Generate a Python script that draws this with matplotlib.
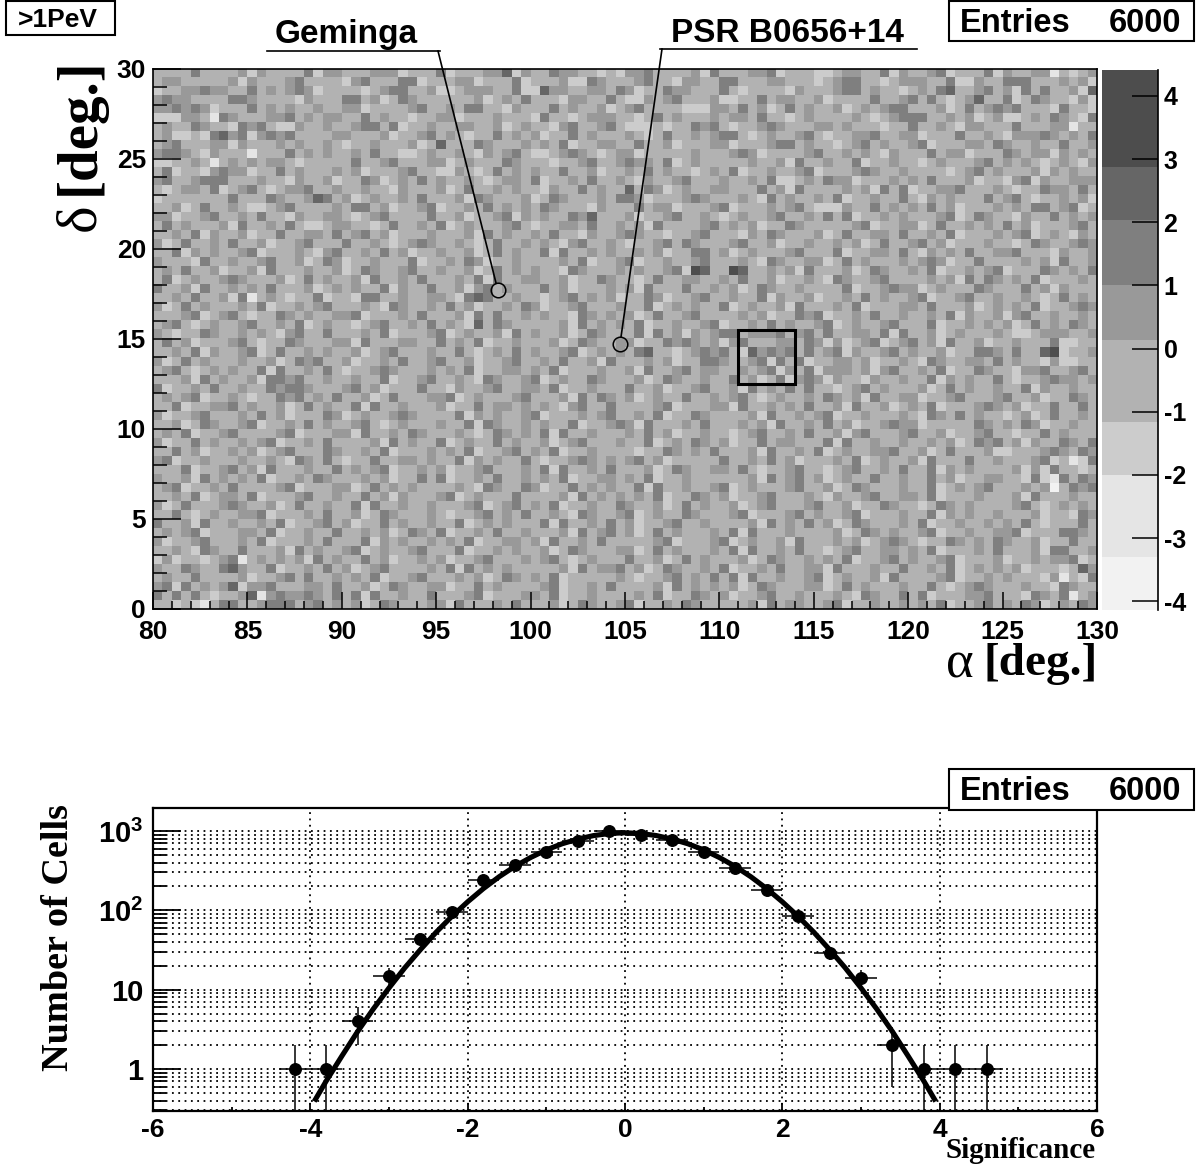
import numpy as np
import matplotlib
matplotlib.use("Agg")
import matplotlib.pyplot as plt
from matplotlib.colors import ListedColormap
from matplotlib.patches import Rectangle
from matplotlib.ticker import LogLocator, NullFormatter, MultipleLocator

plt.rcParams['font.family'] = ['Liberation Sans', 'DejaVu Sans']
plt.rcParams['font.weight'] = 'bold'
plt.rcParams['axes.unicode_minus'] = False
plt.rcParams['mathtext.fontset'] = 'custom'
plt.rcParams['mathtext.bf'] = 'Liberation Sans:bold'

W, H = 1198, 1168

# sky map cells, top row first, one digit per cell = colour band (1 lightest .. 8 darkest)
# only the corners and the darkest/lightest
# cells are close to the original, the rest is an approximate hand estimate
map_rows = [
    "4444644445 3544446355 4445553444 6344455735 4465544343 5564444536 4445563444 3345544635 4456344463 5445524345",
    "4554444453 5444564444 3564446634 4455344463 4445336544 4564435544 6644455444 3456644345 5544633544 6664445453",
    "3445565544 6454565344 4434566445 3345554463 3755445546 5344655444 6434444354 4456645443 4546744564 5364644537",
    "5655444466 5444435444 6645346544 4444534546 4443554464 3354564445 3344645544 5344446445 6464345744 6346544353",
    "5565653444 6454544544 5534444564 4546644354 4464544534 5644443335 5464534645 4453454566 4445346456 5644436443",
    "3335542654 4455645455 4464544344 5534445444 3644345554 4346454445 4554644345 4444543456 6644545345 3345465436",
    "4544654436 5643354454 4566463445 4455445345 4435644564 3334344656 4344565444 5545444344 6445435544 4644455244",
    "4533436756 3565644445 5444534456 4543446454 5344645444 5434644545 6643454456 4344556445 5344464454 3555654546",
    "4564445535 4445454454 3445444534 7444654445 4546344554 4644534445 5344456645 4434564544 5634445546 5445446445",
    "5665435444 2444645454 4546443345 4454354564 3345654345 5344444544 4565344445 6445454354 4464553444 6545535454",
    "3344542454 5455434444 4644564445 5345444654 4434456445 6554634544 4445445364 4544634454 4345444564 5454345435",
    "4634435655 3446454445 4534445644 3354346454 5446445344 5464544345 4634454456 3444565445 4444345645 4445354544",
    "5644566644 4544354453 4465345464 5445434554 6344546445 4354456444 5445463345 4655344454 5464445344 3563544555",
    "4345546345 6434556445 4454435444 5346445454 4354464544 7465345445 5444645364 4445453646 3445564445 4344655464",
    "3444444464 4465445764 5345445464 4453654445 3465444546 6534445654 4454364544 5463445446 4354544464 5643445453",
    "4453464454 3345644445 4664534456 3445464545 4654443544 4645534445 6344454564 3335446454 5464534445 4546645634",
    "5534456445 4644354455 4345644446 4453445635 4544657444 5344564454 3454456445 4646344545 4445634654 4354464545",
    "4645444536 4454643345 5443464454 6345444564 3445546445 4536444456 4545344654 4444563445 5346445454 6453444564",
    "4454635445 3446445546 4564534445 4445364544 5464435445 6544344564 4435465444 5346445546 4454634445 4563454354",
    "5346445464 4534456444 6445434565 4454346445 4543564454 3445646544 4564453445 4454534644 5645344454 4346544565",
    "4463545445 6344454356 4454645344 5445346454 4636445454 4545344664 5345444564 4463445546 4354546445 5644435445",
    "5444364454 4564453465 3445444634 4546534454 4445463445 6344544564 4454365445 5346454445 4565344644 4454536445",
    "4546445344 5364445445 3465445644 5445346454 5443654445 4544563874 4874454536 4445346544 5463445456 3444654546",
    "4634544565 4445346454 4536445464 4454636445 5445344654 4346445544 5464453445 4365445644 4454536465 4546344454",
    "6445364454 5464445345 4544635446 4453564544 4645344454 5364446445 4534654454 4446344565 5345444654 4464535444",
    "4454644536 2454344634 4366445445 5436764454 4345645453 4465344564 4544635445 3445464544 5634456445 4454346454",
    "5346454445 4634454564 4454365445 4645344546 5344564445 4463454544 6345445364 4454634445 5464445345 4546344565",
    "4445634564 3446545445 5634445464 4453646445 4544365454 5346445644 4454534465 6344546445 4454635445 3564454454",
    "4564345445 6445463454 4345644546 4543746544 4445364545 4634454456 3445464544 5634544564 4463445454 5346454654",
    "5434465445 4543564464 4454634445 6345445364 5445346544 4636453545 6645556456 4644554636 4453454445 4334555445",
    "4645344456 4344654445 5364445544 6454634454 4453465445 5344656545 3564445546 5353456345 6453644534 4544463344",
    "4454635445 6346445454 4534564445 4464345464 5445634545 4674434565 6437565646 4563544564 5445344665 4644783445",
    "5346454445 4453465644 5344546445 6445344564 4546445364 4454534466 5445636463 4455453445 4365445546 4544353344",
    "4564345454 4636445464 3445654445 4546344554 5463444544 5364456455 4454563546 3555453564 4546344654 4355644564",
    "4445364544 5366564454 4544634456 4454365445 6345446544 4534654454 4645346356 5354435445 4463545446 4344565545",
    "6344546445 4465665444 5645344464 4354456445 5463445444 6445344564 4536454646 4434564544 4534645445 4463544544",
    "4545634454 3446564546 4453464445 5634544456 4445364654 5345446445 4564345445 4654536445 5344564445 6445344654",
    "4463445564 5445346454 4636445444 5344645545 4543564464 4445634445 5364454546 4453644534 5463444565 4534464464",
    "5344564445 4645344465 3454456544 4463545445 6344454564 4546344654 4445364454 5634454445 4365464544 3453464454",
    "4453465445 6344546454 4564345444 5446365445 4544634456 5364445464 4454536445 4645344565 5344444654 5465344544",
    "4546344564 4445634445 5364454654 4454346545 4636445444 5464534454 4345644546 4453564445 6445344564 4344645444",
    "5344645445 4563445464 4445364544 6345446454 4534564445 4463454654 5344645544 4636445445 4454534656 4535446546",
    "4464534454 5345644465 4454634445 4546344564 5463445444 4344654546 4445364454 6345445564 4534644453 3444565465",
    "5634454445 4454365464 3446445545 4463545446 4344565454 5645344444 6445464534 4454634544 5364446445 4445634236",
    "4446344564 5364445446 4545634454 5344564445 4636445464 4453465445 5464344564 4345644546 4463545444 4535364434",
    "5445364545 4634454654 4454534464 6344546445 4546344554 5463445444 4445364564 5345446445 4464534455 4436326465",
    "4563445464 4445634445 5346454544 4454365446 5344645454 4636445445 6345444564 4534654445 4463454564 4454514656",
    "4454634554 6344456445 4464535444 5634544464 4445364545 4546344654 5344564445 4354456445 5463444544 4536444544",
    "5346444565 4453464454 4636445445 4445634564 5463445446 5445346454 4534564445 6445344654 4346545444 4564345454",
    "4464345445 5634445464 4534654445 4344564546 4454365445 6345446544 4563444564 5445634445 4463545445 4445344365",
    "6445364454 4546344564 5344645445 4463454544 4636445464 5344564454 4445364546 4534654445 4634454454 5464344464",
    "4545634445 5463445446 4454534654 6344546445 4445364564 5346454445 4636444544 4453465454 4563445445 5634446654",
    "5344564445 4634445464 4463545445 4546344554 5364454644 4445634445 6345445364 4454534565 4344654546 5445344644",
    "4454365446 4445364544 5634544564 4463445454 4534654445 5346454445 4636445464 4345644554 5463444546 4445366445",
    "3534434562 4545453645 4464534454 5344564445 4564345444 6445346454 4453465445 4546344564 5445634445 3445455634",
    "5446544675 4463445464 5345644445 4636454544 4445364556 4534654454 6344546445 5364445446 4454634545 4534443475",
    "4544644445 3445646445 4546344564 4454534654 5463444445 4344564546 4636445445 6345445364 4445634454 5444352436",
    "5636454573 5564445546 4453465445 5344645444 4563445464 4445364545 4534654445 5346454445 4464345654 4454436544",
    "6464643445 7256556546 4636445446 4445634445 5463445444 4546344654 5344564454 4454365446 4634445564 4436546245",
    "4434324664 4566645645 4534654445 5364445464 4453465445 6344546544 4445364554 4563445445 4546344564 5465345465",
]

# colour bands and their limits on the colour scale
band_colors = ['#f2f2f2', '#e5e5e5', '#cccccc', '#b2b2b2', '#999999', '#7f7f7f', '#666666', '#4d4d4d']
band_edges = [-4.14, -3.3, -2.0, -1.16, 0.14, 1.0, 2.03, 2.87, 4.41]
bar_ticks = [-4, -3, -2, -1, 0, 1, 2, 3, 4]

# sources on the map
source_alpha = [98.27, 104.73]
source_delta = [17.72, 14.72]

# significance histogram
sig_bins = [-4.2, -3.8, -3.4, -3.0, -2.6, -2.2, -1.8, -1.4, -1.0, -0.6, -0.2, 0.2,
            0.6, 1.0, 1.4, 1.8, 2.2, 2.6, 3.0, 3.4, 3.8, 4.2, 4.6]
sig_counts = [1, 1, 4, 15, 44, 95, 240, 370, 540, 750, 990, 900,
              770, 540, 340, 180, 85, 29, 14, 2, 1, 1, 1]

# fit curve
fit_x = [-3.95, -3.8, -3.6, -3.4, -3.2, -3.0, -2.8, -2.6, -2.4, -2.2, -2.0, -1.8, -1.6, -1.4, -1.2, -1.0,
         -0.8, -0.6, -0.4, -0.2, 0.0, 0.2, 0.4, 0.6, 0.8, 1.0, 1.2, 1.4, 1.6, 1.8, 2.0, 2.2, 2.4, 2.6,
         2.8, 3.0, 3.2, 3.4, 3.6, 3.8, 3.95]
fit_y = [0.39, 0.70, 1.45, 2.95, 5.7, 10.5, 18.8, 32, 53, 84, 128, 188, 265, 358, 463, 578,
         690, 790, 875, 930, 950, 930, 875, 790, 690, 578, 463, 358, 265, 188, 128, 84, 53, 32,
         18.8, 10.5, 5.7, 2.95, 1.45, 0.70, 0.39]


def axes_px(left, top, right, bottom):
    return fig.add_axes([left / W, 1 - bottom / H, (right - left) / W, (bottom - top) / H])


fig = plt.figure(figsize=(W / 100, H / 100), dpi=100)

# sky map
ax = axes_px(153, 69, 1097, 609)
cells = np.array([[int(c) for c in r.replace(' ', '')] for r in map_rows])
ax.imshow(cells, cmap=ListedColormap(band_colors), vmin=0.5, vmax=8.5, extent=[80, 130, 0, 30],
          aspect='auto', interpolation='nearest')
ax.set_xlim(80, 130)
ax.set_ylim(0, 30)
ax.set_xticks(range(80, 131, 5))
ax.set_yticks(range(0, 31, 5))
ax.xaxis.set_minor_locator(MultipleLocator(1))
ax.yaxis.set_minor_locator(MultipleLocator(1))
ax.tick_params(axis='x', which='major', direction='in', length=12, width=1.1, labelsize=19, pad=8)
ax.tick_params(axis='x', which='minor', direction='in', length=6, width=1.1)
ax.tick_params(axis='y', which='major', direction='in', length=20, width=1.1, labelsize=19, pad=5)
ax.tick_params(axis='y', which='minor', direction='in', length=10, width=1.1)
for s in ax.spines.values():
    s.set_linewidth(1.2)
ax.add_patch(Rectangle((111, 12.5), 3, 3, fill=False, ec='black', lw=2.2, zorder=5))
ax.plot(source_alpha, source_delta, 'o', mfc='none', mec='black', ms=10.5, mew=1.1, zorder=6)

# colour scale
cax = axes_px(1102, 70, 1158, 610)
cax.pcolormesh([0, 1], band_edges, np.arange(len(band_colors)).reshape(-1, 1),
               cmap=ListedColormap(band_colors), vmin=-0.5, vmax=7.5)
cax.set_xlim(0, 1)
cax.set_ylim(band_edges[0], band_edges[-1])
cax.set_xticks([])
cax.set_yticks(bar_ticks)
cax.yaxis.tick_right()
cax.tick_params(axis='y', direction='in', length=19, width=1.1, labelsize=18, pad=4)
for name in ['top', 'left', 'bottom']:
    cax.spines[name].set_visible(False)
cax.spines['right'].set_linewidth(1.2)

# histogram
ax2 = axes_px(153, 808, 1097, 1111)
ax2.set_yscale('log')
ax2.set_xlim(-6, 6)
ax2.set_ylim(0.295, 1950)
ax2.set_xticks([-6, -4, -2, 0, 2, 4, 6])
ax2.xaxis.set_minor_locator(MultipleLocator(1))
ax2.set_yticks([1, 10, 100, 1000])
ax2.set_yticklabels(['1', '10', r'$\mathbf{10^{2}}$', r'$\mathbf{10^{3}}$'])
ax2.yaxis.set_minor_locator(LogLocator(base=10, subs=np.arange(2, 10), numticks=12))
ax2.yaxis.set_minor_formatter(NullFormatter())
dots = (0, (1, 2.5))
ax2.grid(True, axis='x', which='major', color='black', lw=1.3, ls=dots)
ax2.grid(True, axis='y', which='both', color='black', lw=1.3, ls=dots)
ax2.set_axisbelow(True)
ax2.tick_params(axis='x', which='major', direction='in', length=6, width=1.3, labelsize=19, pad=5)
ax2.tick_params(axis='x', which='minor', direction='in', length=3, width=1.3)
ax2.tick_params(axis='y', which='major', direction='in', length=20, width=1.3, labelsize=21, pad=7)
ax2.tick_params(axis='y', which='minor', direction='in', length=9.5, width=1.3)
for s in ax2.spines.values():
    s.set_linewidth(1.6)
counts = np.array(sig_counts, dtype=float)
ax2.errorbar(sig_bins, counts, xerr=0.2, yerr=np.sqrt(counts), fmt='o', color='black', ms=8.3,
             elinewidth=1.1, capsize=0, zorder=3)
ax2.plot(fit_x, fit_y, color='black', lw=3.7, solid_capstyle='butt', zorder=4)

# overlay in pixel coordinates for boxes, labels and leader lines
ov = fig.add_axes([0, 0, 1, 1], facecolor='none')
ov.set_xlim(0, W)
ov.set_ylim(H, 0)
ov.axis('off')


def stat_box(x0, y0, x1, y1):
    ov.add_patch(Rectangle((x0, y0), x1 - x0, y1 - y0, fc='white', ec='black', lw=1.5, clip_on=False))


stat_box(949, 1, 1194, 41)
ov.text(960, 24, 'Entries', fontsize=23.5, va='center', ha='left')
ov.text(1181, 24, '6000', fontsize=23.5, va='center', ha='right')
stat_box(949, 769, 1194, 810)
ov.text(960, 791, 'Entries', fontsize=23.5, va='center', ha='left')
ov.text(1181, 791, '6000', fontsize=23.5, va='center', ha='right')
stat_box(6, 1, 115, 35)
ov.text(18, 20, '>1PeV', fontsize=19, va='center', ha='left')

ov.text(346, 34, 'Geminga', fontsize=24, va='center', ha='center')
ov.plot([267, 440], [51, 51], color='black', lw=1.2)
ov.plot([438, 496], [51, 283], color='black', lw=1.2)
ov.text(787, 34, 'PSR B0656+14', fontsize=24, va='center', ha='center')
ov.plot([660, 917], [49, 49], color='black', lw=1.2)
ov.plot([662, 621], [49, 337], color='black', lw=1.2)

serif = 'Liberation Serif'
ov.text(80, 217, '\u03b4', family=serif, fontsize=42, fontweight='normal', rotation=90, va='center', ha='center')
ov.text(80, 126, '[deg.]', family=serif, fontsize=41, rotation=90, va='center', ha='center')
ov.text(960, 664, '\u03b1', family=serif, fontsize=38, fontweight='normal', va='center', ha='center')
ov.text(1098, 664, '[deg.]', family=serif, fontsize=34, va='center', ha='right')
ov.text(58, 938, 'Number of Cells', family=serif, fontsize=27.5, rotation=90, va='center', ha='center')
ov.text(1096, 1151, 'Significance', family=serif, fontsize=21, va='center', ha='right')

fig.savefig('out.png', dpi=100)
